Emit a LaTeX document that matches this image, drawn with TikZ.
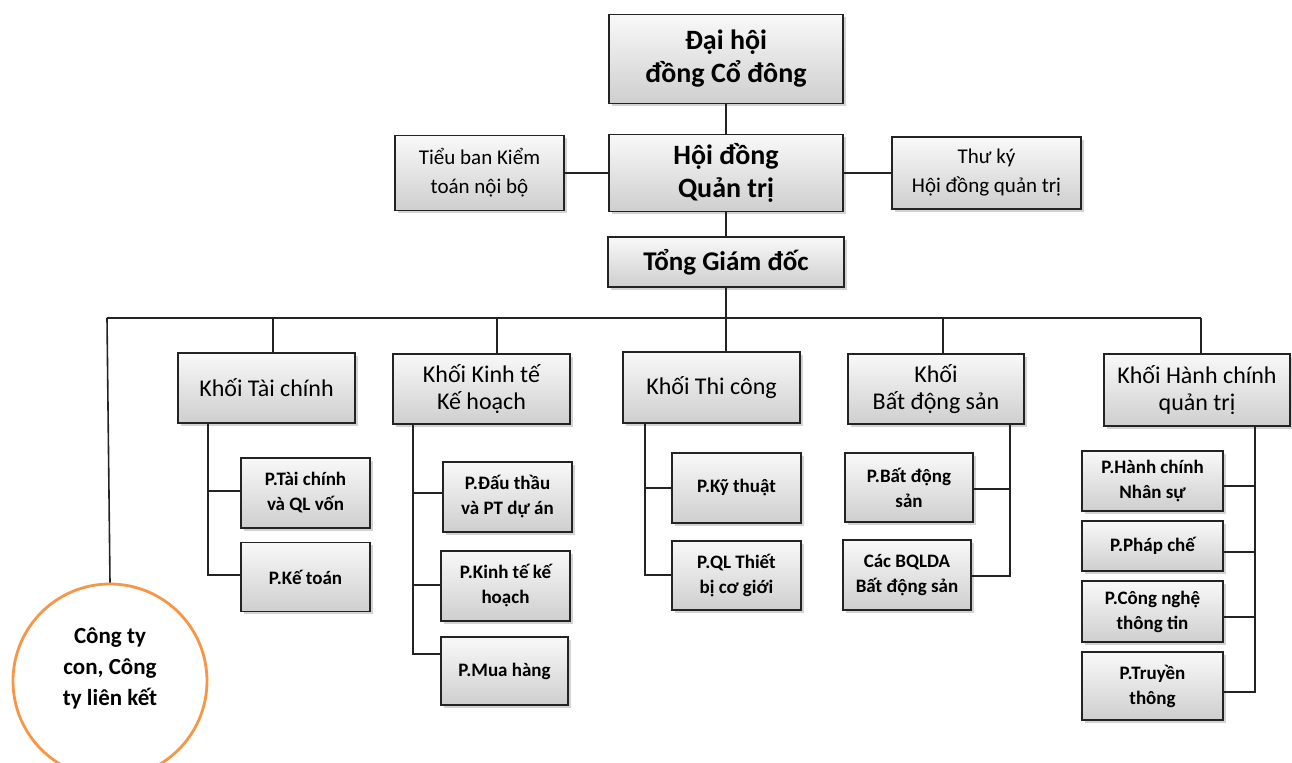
\documentclass[tikz,border=0pt]{standalone}
\usepackage{fontspec}
\setmainfont{Carlito}
\usetikzlibrary{shadows}
\usetikzlibrary{calc}

\definecolor{boxline}{RGB}{35,35,35}
\definecolor{ringorange}{RGB}{247,150,70}

\tikzset{
  box/.style={draw=boxline, line width=0.9pt, top color=gray!5, bottom color=gray!38,
    drop shadow={shadow xshift=1.3pt, shadow yshift=-1.3pt, opacity=0.35},
    align=center, inner sep=0pt},
  wh/.style 2 args={minimum width=#1*0.5pt, minimum height=#2*0.5pt},
  top/.style={font=\fontsize{14}{16.5}\selectfont\bfseries},
  side/.style={font=\fontsize{10.5}{14.5}\selectfont},
  khoi/.style={font=\fontsize{12}{13.5}\selectfont},
  phong/.style={font=\fontsize{9.5}{12.5}\selectfont\bfseries},
  link/.style={line width=0.8pt, boxline},
}

\begin{document}
\begin{tikzpicture}[x=0.5pt, y=-0.5pt]
\clip (0,0) rectangle (1292,763);

% Top levels
\node[box, top, wh={234}{89}] (dhd) at (726,59) {Đại hội\\đồng Cổ đông};
\node[box, top, wh={234}{77}] (hdqt) at (726,173) {Hội đồng\\Quản trị};
\node[box, side, wh={169}{75}] (tbkt) at (479.5,173) {Tiểu ban Kiểm\\toán nội bộ};
\node[box, side, wh={189}{72}] (tk) at (986.5,173) {Thư ký\\Hội đồng quản trị};
\node[box, top, wh={236}{50}, font=\fontsize{13.5}{16}\selectfont\bfseries] (tgd) at (726,262) {Tổng Giám đốc};

\draw[link] (dhd.south) -- (hdqt.north);
\draw[link] (tbkt.east) -- (hdqt.west);
\draw[link] (tk.west) -- (hdqt.east);
\draw[link] (hdqt.south) -- (tgd.north);

% Khoi
\node[box, khoi, wh={177}{70}] (ktc) at (266.5,388) {Khối Tài chính};
\node[box, khoi, wh={177}{70}] (kkt) at (481.5,389) {Khối Kinh tế\\Kế hoạch};
\node[box, khoi, wh={177}{71}] (ktcg) at (711.5,387.5) {Khối Thi công};
\node[box, khoi, wh={176}{70}] (kbds) at (936,389) {Khối\\Bất động sản};
\node[box, khoi, wh={186}{72}] (khc) at (1197,390) {Khối Hành chính\\quản trị};

% Cong ty con
\node[circle, draw=ringorange, line width=1.4pt, fill=white, minimum size=97pt,
  font=\fontsize{11.5}{15.5}\selectfont\bfseries] (ct) at (110,681)
  {\raisebox{6.5pt}[\height][\depth]{\begin{tabular}{@{}c@{}}Công ty\\con, Công\\ty liên kết\end{tabular}}};

% bus
\coordinate (b0) at (107,318);
\coordinate (b1) at (273,318);
\coordinate (b2) at (497,318);
\coordinate (b4) at (943,318);
\coordinate (b5) at (1201,318);
\draw[link] (b0) -- (b5);
\draw[link] (tgd.south) -- (tgd.south |- ktcg.north);
\draw[link] (b0) -- (ct.north);
\draw[link] (b1) -- (b1 |- ktc.north);
\draw[link] (b2) -- (b2 |- kkt.north);
\draw[link] (b4) -- (b4 |- kbds.north);
\draw[link] (b5) -- (b5 |- khc.north);

% Phong - Tai chinh
\node[box, phong, wh={129}{70}] (ptc) at (305.5,493) {P.Tài chính\\và QL vốn};
\node[box, phong, wh={129}{69}] (pkt) at (305.5,577) {P.Kế toán};
\coordinate (v1) at (208,575);
\coordinate (h1) at (208,491);
\draw[link] (ktc.south -| v1) -- (v1) -- (v1 -| pkt.west);
\draw[link] (h1) -- (h1 -| ptc.west);

% Phong - Kinh te
\node[box, phong, wh={129}{70}] (pdt) at (507.5,497) {P.Đấu thầu\\và PT dự án};
\node[box, phong, wh={129}{70}] (pktkh) at (505.5,586) {P.Kinh tế kế\\hoạch};
\node[box, phong, wh={127}{68}] (pmh) at (504.5,671) {P.Mua hàng};
\coordinate (v2) at (413,654);
\coordinate (h2) at (413,493);
\coordinate (h3) at (413,585);
\draw[link] (kkt.south -| v2) -- (v2) -- (v2 -| pmh.west);
\draw[link] (h2) -- (h2 -| pdt.west);
\draw[link] (h3) -- (h3 -| pktkh.west);

% Phong - Thi cong
\node[box, phong, wh={129}{70}] (pkth) at (736.5,488) {P.Kỹ thuật};
\node[box, phong, wh={129}{69}] (pqltb) at (736.5,575.5) {P.QL Thiết\\bị cơ giới};
\coordinate (v3) at (645,575);
\coordinate (h4) at (645,488);
\draw[link] (ktcg.south -| v3) -- (v3) -- (v3 -| pqltb.west);
\draw[link] (h4) -- (h4 -| pkth.west);

% Phong - Bat dong san
\node[box, phong, wh={128}{69}] (pbds) at (909,487.5) {P.Bất động\\sản};
\node[box, phong, wh={128}{70}] (pbql) at (907,575) {Các BQLDA\\Bất động sản};
\coordinate (v4) at (1010,576);
\coordinate (h5) at (1010,489);
\draw[link] (kbds.south -| v4) -- (v4) -- (v4 -| pbql.east);
\draw[link] (h5) -- (h5 -| pbds.east);

% Phong - Hanh chinh
\node[box, phong, wh={141}{60}] (phc) at (1152.5,481) {P.Hành chính\\Nhân sự};
\node[box, phong, wh={141}{50}] (ppc) at (1152.5,546) {P.Pháp chế};
\node[box, phong, wh={141}{61}] (pcn) at (1152.5,611.5) {P.Công nghệ\\thông tin};
\node[box, phong, wh={141}{68}] (ptt) at (1152.5,686) {P.Truyền\\thông};
\coordinate (v5) at (1255,692);
\coordinate (h6) at (1255,486);
\coordinate (h7) at (1255,552);
\coordinate (h8) at (1255,617);
\draw[link] (khc.south -| v5) -- (v5) -- (v5 -| ptt.east);
\draw[link] (h6) -- (h6 -| phc.east);
\draw[link] (h7) -- (h7 -| ppc.east);
\draw[link] (h8) -- (h8 -| pcn.east);
\end{tikzpicture}
\end{document}
